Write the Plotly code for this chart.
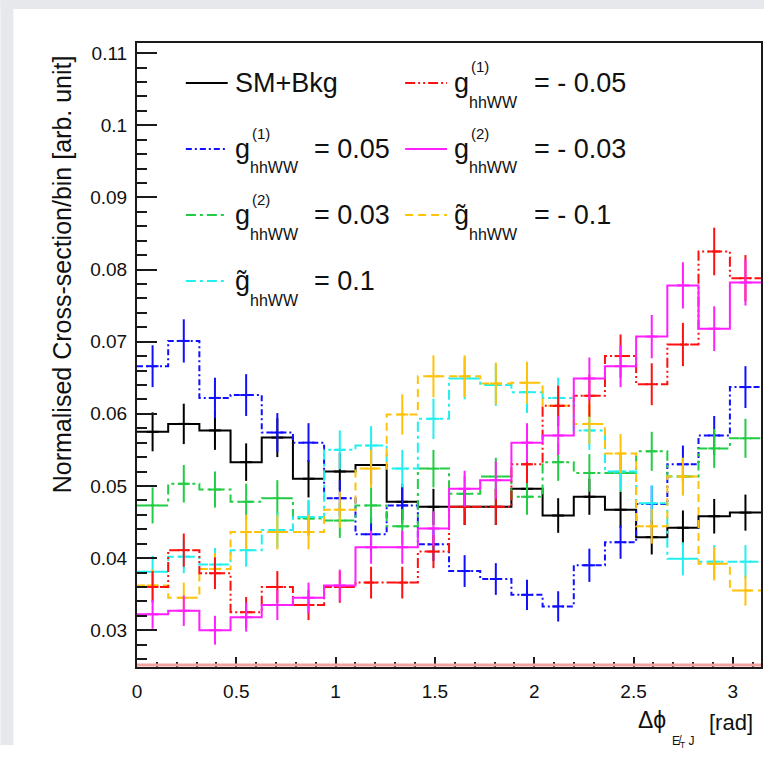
import plotly.graph_objects as go

# ---------------- data ----------------
bin_edges = [0.0, 0.157, 0.314, 0.471, 0.628, 0.785, 0.942, 1.100, 1.257, 1.414, 1.571,
             1.728, 1.885, 2.042, 2.199, 2.356, 2.513, 2.670, 2.827, 2.985, 3.1416]

sm_bkg = [0.0575, 0.0586, 0.0577, 0.0533, 0.0567, 0.0510, 0.0520, 0.0529, 0.0478, 0.0471,
          0.0471, 0.0471, 0.0496, 0.0459, 0.0485, 0.0467, 0.0429, 0.0442, 0.0458, 0.0463]
sm_bkg_err = [0.0027, 0.0028, 0.0027, 0.0026, 0.0027, 0.0026, 0.0026, 0.0026, 0.0025, 0.0025,
              0.0025, 0.0025, 0.0025, 0.0024, 0.0025, 0.0025, 0.0024, 0.0024, 0.0024, 0.0025]

g1_m005 = [0.0360, 0.0411, 0.0379, 0.0325, 0.0360, 0.0335, 0.0360, 0.0366, 0.0366, 0.0409,
           0.0471, 0.0471, 0.0530, 0.0611, 0.0625, 0.0680, 0.0641, 0.0696, 0.0825, 0.0788]
g1_m005_err = [0.0022, 0.0023, 0.0022, 0.0021, 0.0022, 0.0021, 0.0022, 0.0022, 0.0022, 0.0023,
               0.0025, 0.0025, 0.0026, 0.0028, 0.0029, 0.0030, 0.0029, 0.0030, 0.0033, 0.0032]

g1_p005 = [0.0666, 0.0701, 0.0622, 0.0626, 0.0574, 0.0560, 0.0483, 0.0433, 0.0473, 0.0419,
           0.0382, 0.0371, 0.0349, 0.0333, 0.0390, 0.0422, 0.0475, 0.0530, 0.0570, 0.0637]
g1_p005_err = [0.0029, 0.0030, 0.0028, 0.0029, 0.0027, 0.0027, 0.0025, 0.0024, 0.0025, 0.0023,
               0.0022, 0.0022, 0.0021, 0.0021, 0.0023, 0.0023, 0.0025, 0.0026, 0.0027, 0.0029]

g2_m003 = [0.0322, 0.0327, 0.0300, 0.0318, 0.0335, 0.0345, 0.0362, 0.0415, 0.0415, 0.0441,
           0.0496, 0.0508, 0.0560, 0.0570, 0.0649, 0.0666, 0.0707, 0.0778, 0.0718, 0.0782]
g2_m003_err = [0.0020, 0.0021, 0.0020, 0.0020, 0.0021, 0.0021, 0.0022, 0.0023, 0.0023, 0.0024,
               0.0025, 0.0026, 0.0027, 0.0027, 0.0029, 0.0029, 0.0030, 0.0032, 0.0031, 0.0032]

g2_p003 = [0.0473, 0.0503, 0.0495, 0.0478, 0.0483, 0.0455, 0.0452, 0.0473, 0.0444, 0.0524,
           0.0489, 0.0513, 0.0485, 0.0533, 0.0518, 0.0518, 0.0548, 0.0513, 0.0552, 0.0566]
g2_p003_err = [0.0025, 0.0026, 0.0025, 0.0025, 0.0025, 0.0024, 0.0024, 0.0025, 0.0024, 0.0026,
               0.0025, 0.0026, 0.0025, 0.0026, 0.0026, 0.0026, 0.0027, 0.0026, 0.0027, 0.0027]

gt_m01 = [0.0362, 0.0345, 0.0385, 0.0436, 0.0436, 0.0436, 0.0467, 0.0524, 0.0599, 0.0652,
          0.0652, 0.0642, 0.0643, 0.0611, 0.0586, 0.0545, 0.0444, 0.0513, 0.0392, 0.0355]
gt_m01_err = [0.0022, 0.0021, 0.0022, 0.0024, 0.0024, 0.0024, 0.0025, 0.0026, 0.0028, 0.0029,
              0.0029, 0.0029, 0.0029, 0.0028, 0.0028, 0.0027, 0.0024, 0.0026, 0.0023, 0.0021]

gt_p01 = [0.0381, 0.0402, 0.0391, 0.0411, 0.0439, 0.0457, 0.0550, 0.0556, 0.0524, 0.0593,
          0.0649, 0.0640, 0.0630, 0.0622, 0.0577, 0.0520, 0.0476, 0.0399, 0.0395, 0.0395]
gt_p01_err = [0.0022, 0.0023, 0.0023, 0.0023, 0.0024, 0.0024, 0.0027, 0.0027, 0.0026, 0.0028,
              0.0029, 0.0029, 0.0029, 0.0028, 0.0027, 0.0026, 0.0025, 0.0023, 0.0023, 0.0023]

y_tick_vals = [0.03, 0.04, 0.05, 0.06, 0.07, 0.08, 0.09, 0.10, 0.11]
y_tick_text = ["0.03", "0.04", "0.05", "0.06", "0.07", "0.08", "0.09", "0.1", "0.11"]
x_tick_vals = [0, 0.5, 1, 1.5, 2, 2.5, 3]
x_tick_text = ["0", "0.5", "1", "1.5", "2", "2.5", "3"]

# legend labels: (main, sup, sub, tail)
legend_labels = {
    "sm": ("SM+Bkg", None, None, None),
    "g1m": ("g", "(1)", "hhWW", "= - 0.05"),
    "g1p": ("g", "(1)", "hhWW", "= 0.05"),
    "g2m": ("g", "(2)", "hhWW", "= - 0.03"),
    "g2p": ("g", "(2)", "hhWW", "= 0.03"),
    "gtm": ("g\u0303", None, "hhWW", "= - 0.1"),
    "gtp": ("g\u0303", None, "hhWW", "= 0.1"),
}

# ---------------- styles ----------------
series = [
    ("sm", sm_bkg, sm_bkg_err, "#000000", "solid"),
    ("g1p", g1_p005, g1_p005_err, "#1010ff", "6px,3px,2px,3px"),
    ("g2p", g2_p003, g2_p003_err, "#22cc44", "10px,4px,3px,4px"),
    ("gtp", gt_p01, gt_p01_err, "#22f0f0", "10px,4px,3px,4px"),
    ("gtm", gt_m01, gt_m01_err, "#ffc20a", "8px,5px"),
    ("g1m", g1_m005, g1_m005_err, "#ff1010", "10px,3px,2px,3px,2px,3px"),
    ("g2m", g2_m003, g2_m003_err, "#ff20ff", "solid"),
]

W, H = 766, 758
L, R, T, B = 137, 763, 43, 667


def px(x):
    return (x - L) / (R - L)


def py(y):
    return (B - y) / (B - T)


centers = [(bin_edges[i] + bin_edges[i + 1]) / 2 for i in range(len(bin_edges) - 1)]

fig = go.Figure()
for key, vals, errs, color, dash in series:
    fig.add_trace(go.Scatter(
        x=bin_edges, y=list(vals) + [vals[-1]], mode="lines", line_shape="hv",
        line=dict(color=color, width=2, dash=dash), showlegend=False, hoverinfo="skip"))
    fig.add_trace(go.Scatter(
        x=centers, y=vals, mode="markers", marker=dict(size=1, color=color),
        error_y=dict(type="data", array=errs, visible=True, color=color, thickness=2, width=0),
        error_x=dict(type="constant", value=0.03, visible=True, color=color, thickness=2, width=0),
        showlegend=False, hoverinfo="skip"))

shapes = []
annotations = []

gray = "#e6e8eb"
shapes.append(dict(type="rect", xref="paper", yref="paper", x0=px(0), x1=px(W), y0=py(0), y1=py(9),
                   fillcolor=gray, line=dict(width=0), layer="below"))
shapes.append(dict(type="rect", xref="paper", yref="paper", x0=px(0), x1=px(13), y0=py(0), y1=py(745),
                   fillcolor=gray, line=dict(width=0), layer="below"))
shapes.append(dict(type="line", xref="paper", yref="paper", x0=0, x1=1, y0=py(665), y1=py(665),
                   line=dict(color="#f2a0a0", width=3)))

font_main = "Liberation Sans, Arial, Helvetica, sans-serif"
leg_pos = {
    "sm": (186, 83), "g1m": (406, 83),
    "g1p": (186, 149), "g2m": (406, 149),
    "g2p": (186, 215), "gtm": (406, 215),
    "gtp": (186, 281),
}
for key, vals, errs, color, dash in series:
    x0, yc = leg_pos[key]
    shapes.append(dict(type="line", xref="paper", yref="paper", x0=px(x0), x1=px(x0 + 42),
                       y0=py(yc), y1=py(yc), line=dict(color=color, width=2, dash=dash)))
    main, sup, sub, tail = legend_labels[key]
    tx = x0 + 47
    annotations.append(dict(text=main, x=px(tx), y=py(yc), xref="paper", yref="paper",
                            xanchor="left", yanchor="middle", showarrow=False,
                            font=dict(size=27, color="#111", family=font_main)))
    if sup:
        annotations.append(dict(text=sup, x=px(tx + 17), y=py(yc - 16), xref="paper", yref="paper",
                                xanchor="left", yanchor="middle", showarrow=False,
                                font=dict(size=15, color="#111", family=font_main)))
    if sub:
        annotations.append(dict(text=sub, x=px(tx + 15), y=py(yc + 19), xref="paper", yref="paper",
                                xanchor="left", yanchor="middle", showarrow=False,
                                font=dict(size=16, color="#111", family=font_main)))
    if tail:
        annotations.append(dict(text=tail, x=px(tx + 80), y=py(yc), xref="paper", yref="paper",
                                xanchor="left", yanchor="middle", showarrow=False,
                                font=dict(size=27, color="#111", family=font_main)))

annotations.append(dict(text="Normalised Cross-section/bin [arb. unit]", x=px(62), y=py(274),
                        xref="paper", yref="paper", textangle=-90, showarrow=False,
                        xanchor="center", yanchor="middle",
                        font=dict(size=25, color="#111", family=font_main)))
annotations.append(dict(text="Δϕ", x=px(670), y=py(720), xref="paper", yref="paper",
                        xanchor="right", yanchor="middle", showarrow=False,
                        font=dict(size=23, color="#111", family=font_main)))
annotations.append(dict(text="E̸<sub>T</sub> J", x=px(672), y=py(742), xref="paper", yref="paper",
                        xanchor="left", yanchor="middle", showarrow=False,
                        font=dict(size=12, color="#111", family=font_main)))
annotations.append(dict(text="[rad]", x=px(709), y=py(722), xref="paper", yref="paper",
                        xanchor="left", yanchor="middle", showarrow=False,
                        font=dict(size=22, color="#111", family=font_main)))

axis_col = "#1a1a1a"
fig.update_layout(
    width=W, height=H,
    margin=dict(l=L, r=W - R, t=T, b=H - B, pad=0),
    paper_bgcolor="white", plot_bgcolor="white",
    shapes=shapes, annotations=annotations, showlegend=False,
    font=dict(family=font_main, color="#111"),
)
fig.update_xaxes(
    range=[0, 3.1416], showgrid=False, zeroline=False,
    showline=True, mirror=True, linecolor=axis_col, linewidth=2,
    tickvals=x_tick_vals, ticktext=x_tick_text, ticks="inside", ticklen=10, tickwidth=2,
    tickcolor=axis_col, tickfont=dict(size=19, color="#111", family=font_main),
    ticklabelstandoff=6,
    minor=dict(ticks="inside", ticklen=5, dtick=0.1, tick0=0, tickwidth=1.5, tickcolor=axis_col, showgrid=False),
)
fig.update_yaxes(
    range=[0.0249, 0.1114], showgrid=False, zeroline=False,
    showline=True, mirror=True, linecolor=axis_col, linewidth=2,
    tickvals=y_tick_vals, ticktext=y_tick_text, ticks="inside", ticklen=20, tickwidth=2,
    tickcolor=axis_col, tickfont=dict(size=19, color="#111", family=font_main),
    ticklabelstandoff=4,
    minor=dict(ticks="inside", ticklen=10, dtick=0.002, tick0=0.03, tickwidth=1.5, tickcolor=axis_col, showgrid=False),
)

fig.write_html("out.html")
